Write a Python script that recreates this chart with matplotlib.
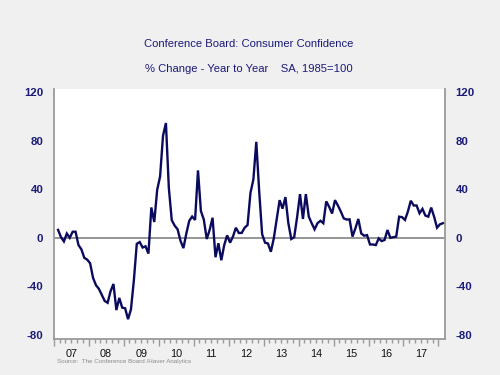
import matplotlib
matplotlib.use("Agg")
import matplotlib.pyplot as plt
import numpy as np

plt.rcParams['font.family'] = ['Liberation Sans', 'DejaVu Sans']

# Monthly % change year-to-year, Feb 2007 .. Feb 2018
values = [
    6.5, 0.5, -3, 3.5, 0, 5, 5, -6, -9.5, -16.5, -18,          # Feb07-Dec07
    -21, -33, -39, -42, -47, -52, -53.5, -44, -38, -59.5, -49.5, -57.5,  # 2008
    -58, -67, -59, -35, -5, -3.5, -8, -7, -13, 25, 13, 39.5,   # 2009
    50.5, 84, 94.5, 41, 14.5, 10, 7, -2.5, -8.5, 3.5, 14, 17.5,  # 2010
    14.7, 55.5, 22, 15, -1, 6.5, 16.5, -16, -4.5, -18.5, -6, 2,  # 2011
    -4, 1, 8.3, 4, 4, 8.3, 10.5, 37, 48, 79, 38, 3,            # 2012
    -4, -4.7, -11.5, -0.5, 15, 31, 24, 33.5, 12, -1, 0.5, 17,  # 2013
    36, 15.5, 36, 17.5, 12, 7, 12, 14, 12, 30, 25.5, 20,       # 2014
    31, 26.6, 21.6, 16, 15, 15.2, 1, 7.8, 15.5, 3.6, 1.7, 2.2, # 2015
    -5.5, -5.5, -6, -0.5, -2.7, -1.8, 6.4, 0, 0.5, 1, 17.4, 17,  # 2016
    14.7, 21.6, 30.5, 26.6, 26.6, 20.2, 23.8, 18.3, 17.4, 24.9, 17.4, 8.3,  # 2017
    11.1, 12,                                                  # Jan18-Feb18
]
start_year = 2007
start_month = 2
year_labels = ['07', '08', '09', '10', '11', '12', '13', '14', '15', '16', '17']
y_ticks = [-80, -40, 0, 40, 80, 120]
title = "Conference Board: Consumer Confidence"
subtitle = "% Change - Year to Year    SA, 1985=100"
source = "Source:  The Conference Board /Haver Analytics"

navy = '#1b1b7a'
line_color = '#0b0b5e'

months = np.arange(len(values)) + (start_month - 1)
t = start_year + (months + 0.5) / 12.0

fig = plt.figure(figsize=(5, 3.75), dpi=100, facecolor='#f0f0f0')
ax = fig.add_axes([0.1074, 0.097, 0.7832, 0.666])
ax.set_facecolor('white')

ax.axhline(0, color='#8c8c8c', lw=1.3, zorder=1)
ax.plot(t, values, color=line_color, lw=1.7, zorder=3, solid_joinstyle='miter')

ax.set_xlim(2007.14, 2018.195)
ax.set_ylim(-83, 122.6)

ax.spines['top'].set_visible(False)
for s in ['left', 'right', 'bottom']:
    ax.spines[s].set_color('#9a9a9a')
    ax.spines[s].set_linewidth(1.3)

ax.set_yticks(y_ticks)
ax.set_yticklabels([str(v) for v in y_ticks])
ax.tick_params(axis='y', which='both', left=False, right=False,
               labelleft=True, labelright=True, pad=4,
               labelsize=8.2, labelcolor=navy)
for lab in ax.get_yticklabels():
    lab.set_fontweight('bold')

years = np.arange(2007, 2019)
ax.set_xticks(years)
ax.set_xticklabels([''] * len(years))
minor_pos = []
minor_lab = []
for y in range(2007, 2018):
    for k in range(1, 6):
        minor_pos.append(y + k / 6.0)
        minor_lab.append(year_labels[y - 2007] if k == 3 else '')
ax.set_xticks(minor_pos, minor=True)
ax.set_xticklabels(minor_lab, minor=True)
ax.tick_params(axis='x', which='major', length=5, width=1, color='#9a9a9a')
ax.tick_params(axis='x', which='minor', length=3, width=1, color='#9a9a9a',
               labelsize=7.8, labelcolor='#111111', pad=4.5)

fig.text(0.498, 1 - 44 / 375, title, ha='center', va='center',
         fontsize=8.1, color=navy)
fig.text(0.498, 1 - 69 / 375, subtitle, ha='center', va='center',
         fontsize=8.1, color=navy)
fig.text(57 / 500, 1 - 361 / 375, source, ha='left', va='center',
         fontsize=4.5, color='#8a8a8a')

fig.savefig('out.png', dpi=100, facecolor=fig.get_facecolor())
